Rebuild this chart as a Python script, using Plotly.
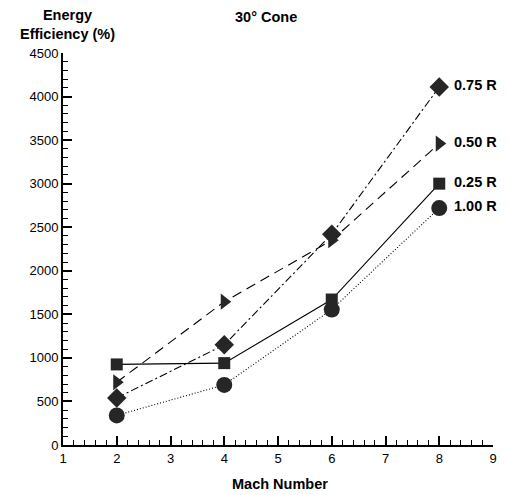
import plotly.graph_objects as go

mach = [2, 4, 6, 8]
r025 = [925, 940, 1670, 3000]
r050 = [720, 1645, 2350, 3460]
r075 = [540, 1150, 2420, 4110]
r100 = [340, 690, 1555, 2720]

series = [
    ("0.25 R", r025, "square", 12, "solid"),
    ("0.50 R", r050, "triangle-right", 14, "10px,6px"),
    ("0.75 R", r075, "diamond", 15, "8px,3px,2px,3px"),
    ("1.00 R", r100, "circle", 16, "1px,2px"),
]

fig = go.Figure()
mc = "#262626"
for name, vals, sym, sz, dash in series:
    fig.add_trace(go.Scatter(
        x=mach, y=vals, mode="lines+markers", name=name,
        line=dict(color="black", width=1.1, dash=dash),
        marker=dict(symbol=sym, size=sz, color=mc, line=dict(width=0)),
        showlegend=False,
    ))
    fig.add_annotation(x=mach[-1], y=vals[-1], xref="x", yref="y",
                       text="<b>%s</b>" % name, showarrow=False,
                       xanchor="left", yanchor="middle", xshift=13, yshift=2,
                       font=dict(size=14.5, color="black"))

axis_common = dict(showgrid=False, zeroline=False, showline=True,
                   linecolor="black", linewidth=2, ticks="inside",
                   tickcolor="black", tickwidth=1.5, ticklen=9,
                   tickfont=dict(size=13, color="black"), mirror=False)

fig.update_xaxes(range=[1, 9], dtick=1, tick0=1,
                 minor=dict(ticks="inside", dtick=0.2, ticklen=5, tickwidth=1, tickcolor="black"),
                 **axis_common)
fig.update_yaxes(range=[0, 4500], dtick=500, tick0=0,
                 minor=dict(ticks="inside", dtick=100, ticklen=5, tickwidth=1, tickcolor="black"),
                 **axis_common)

fig.add_annotation(x=0.01, y=1.072, xref="paper", yref="paper",
                   text="<b>Energy<br>Efficiency (%)</b>", showarrow=False,
                   xanchor="center", yanchor="middle", align="center",
                   font=dict(size=14.5, color="black"))
fig.add_annotation(x=0.472, y=1.092, xref="paper", yref="paper",
                   text="<b>30° Cone</b>", showarrow=False,
                   xanchor="center", yanchor="middle",
                   font=dict(size=14.5, color="black"))
fig.add_annotation(x=0.505, y=-0.1, xref="paper", yref="paper",
                   text="<b>Mach Number</b>", showarrow=False,
                   xanchor="center", yanchor="middle",
                   font=dict(size=14.5, color="black"))

# page body has an 8px margin; size the figure so the plot area lands where the reference has it
fig.update_layout(width=501, height=487,
                  margin=dict(l=55, r=13, t=45, b=50),
                  plot_bgcolor="white", paper_bgcolor="white",
                  font=dict(family="Liberation Sans, Arial, sans-serif", color="black"))

fig.write_html("out.html")
